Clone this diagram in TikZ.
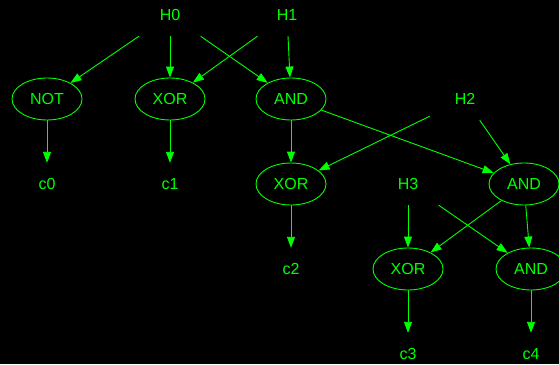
\documentclass[tikz,border=0pt]{standalone}
\usepackage{fontspec}
\setmainfont{Liberation Sans}
\usetikzlibrary{shapes.geometric,arrows.meta}
\definecolor{gv}{RGB}{0,255,0}
\tikzset{
  gate/.style={ellipse, draw=gv, line width=0.9pt, minimum width=70pt, minimum height=42pt, inner sep=0pt, text=gv, font=\fontsize{16}{19}\selectfont},
  plain/.style={rectangle, minimum width=70pt, minimum height=42pt, inner sep=0pt, text=gv, font=\fontsize{16}{19}\selectfont},
  edge/.style={draw=gv, line width=0.9pt, -{Triangle[length=11pt,width=8pt]}}
}
\begin{document}
\begin{tikzpicture}[x=1pt,y=-1pt]
\useasboundingbox[fill=black] (0,0) rectangle (559,364);
\node[plain] (H0) at (170,15) {H0};
\node[plain] (H1) at (287,15) {H1};
\node[gate] (NOT) at (47,99) {NOT};
\node[gate] (XOR1) at (170,99) {XOR};
\node[gate] (AND1) at (291,99) {AND};
\node[plain] (H2) at (465,99) {H2};
\node[plain] (c0) at (47,184) {c0};
\node[plain] (c1) at (170,184) {c1};
\node[gate] (XOR2) at (291,184) {XOR};
\node[plain] (H3) at (408,184) {H3};
\node[gate] (AND2) at (524,184) {AND};
\node[plain] (c2) at (291,269) {c2};
\node[gate] (XOR3) at (408,269) {XOR};
\node[gate] (AND3) at (531,269) {AND};
\node[plain] (c3) at (408,354) {c3};
\node[plain] (c4) at (531,354) {c4};
\draw[edge] (H0) -- (NOT);
\draw[edge] (H0) -- (XOR1);
\draw[edge] (H0) -- (AND1);
\draw[edge] (H1) -- (XOR1);
\draw[edge] (H1) -- (AND1);
\draw[edge] (NOT) -- (c0);
\draw[edge] (XOR1) -- (c1);
\draw[edge] (AND1) -- (XOR2);
\draw[edge] (AND1) -- (AND2);
\draw[edge] (H2) -- (XOR2);
\draw[edge] (H2) -- (AND2);
\draw[edge] (XOR2) -- (c2);
\draw[edge] (H3) -- (XOR3);
\draw[edge] (H3) -- (AND3);
\draw[edge] (AND2) -- (XOR3);
\draw[edge] (AND2) -- (AND3);
\draw[edge] (XOR3) -- (c3);
\draw[edge] (AND3) -- (c4);
\end{tikzpicture}
\end{document}
